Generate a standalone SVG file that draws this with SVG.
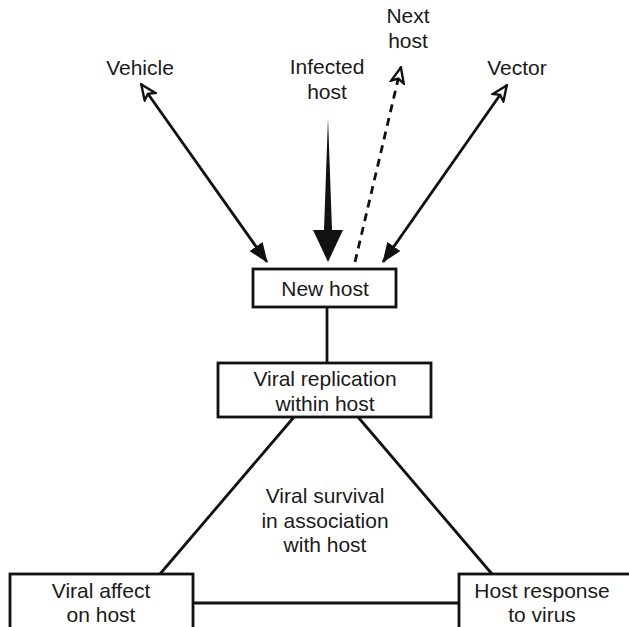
<svg xmlns="http://www.w3.org/2000/svg" width="629" height="627" viewBox="0 0 629 627">
  <style>
    .box { fill: #fff; stroke: #111; stroke-width: 2.8; }
    .lbl { font-family: "Liberation Sans", Arial, sans-serif; font-size: 21px; fill: #1a1a1a; text-anchor: middle; }
    .edge { stroke: #111; stroke-width: 2.8; fill: none; }
    .dash { stroke-dasharray: 8 6; }
  </style>
  <defs>
    <marker id="solidHead" viewBox="0 0 20 16" refX="19" refY="8" markerWidth="20" markerHeight="16" markerUnits="userSpaceOnUse" orient="auto">
      <path d="M0,0 L20,8 L0,16 Z" fill="#111"/>
    </marker>
    <marker id="openHead" viewBox="0 0 18 16" refX="17" refY="8" markerWidth="18" markerHeight="16" markerUnits="userSpaceOnUse" orient="auto-start-reverse">
      <path d="M1.5,1.5 L16.5,8 L1.5,14.5 L5,8 Z" fill="#fff" stroke="#111" stroke-width="2.4" stroke-linejoin="miter"/>
    </marker>
  </defs>

  <g id="connectors">
    <!-- Vehicle <-> New host -->
    <line class="edge" x1="141" y1="84" x2="267" y2="262" marker-start="url(#openHead)" marker-end="url(#solidHead)"/>
    <!-- Vector <-> New host -->
    <line class="edge" x1="507" y1="85" x2="383" y2="262" marker-start="url(#openHead)" marker-end="url(#solidHead)"/>
    <!-- New host -> Next host (dashed) -->
    <line class="edge dash" x1="355" y1="262" x2="401" y2="67" marker-end="url(#openHead)"/>
    <!-- Infected host -> New host (tapered heavy arrow) -->
    <polygon points="328,118 332,230 343,230 328,262 313,230 324,230" fill="#111"/>
    <!-- New host — Viral replication -->
    <line class="edge" x1="327" y1="307" x2="327" y2="363"/>
    <!-- Triangle sides -->
    <line class="edge" x1="294" y1="417" x2="160" y2="574" stroke-width="3"/>
    <line class="edge" x1="358" y1="417" x2="492" y2="574" stroke-width="3"/>
    <!-- Base of triangle -->
    <line class="edge" x1="193" y1="603" x2="459" y2="603" stroke-width="3"/>
  </g>

  <g id="vehicle"><text class="lbl" x="140" y="75">Vehicle</text></g>
  <g id="infected-host">
    <text class="lbl" x="327" y="74">Infected</text>
    <text class="lbl" x="327" y="99">host</text>
  </g>
  <g id="next-host">
    <text class="lbl" x="408" y="23">Next</text>
    <text class="lbl" x="408" y="48">host</text>
  </g>
  <g id="vector"><text class="lbl" x="517" y="75">Vector</text></g>

  <g id="new-host">
    <rect class="box" x="253" y="269" width="143" height="38"/>
    <text class="lbl" x="325" y="296">New host</text>
  </g>

  <g id="viral-replication">
    <rect class="box" x="218" y="363" width="213" height="54"/>
    <text class="lbl" x="325" y="386">Viral replication</text>
    <text class="lbl" x="325" y="411">within host</text>
  </g>

  <g id="viral-survival">
    <text class="lbl" x="325" y="503">Viral survival</text>
    <text class="lbl" x="325" y="528">in association</text>
    <text class="lbl" x="325" y="552">with host</text>
  </g>

  <g id="viral-affect">
    <rect class="box" x="10" y="574" width="183" height="70"/>
    <text class="lbl" x="101" y="598">Viral affect</text>
    <text class="lbl" x="101" y="622">on host</text>
  </g>

  <g id="host-response">
    <rect class="box" x="459" y="574" width="190" height="70"/>
    <text class="lbl" x="542" y="598">Host response</text>
    <text class="lbl" x="542" y="622">to virus</text>
  </g>
</svg>
